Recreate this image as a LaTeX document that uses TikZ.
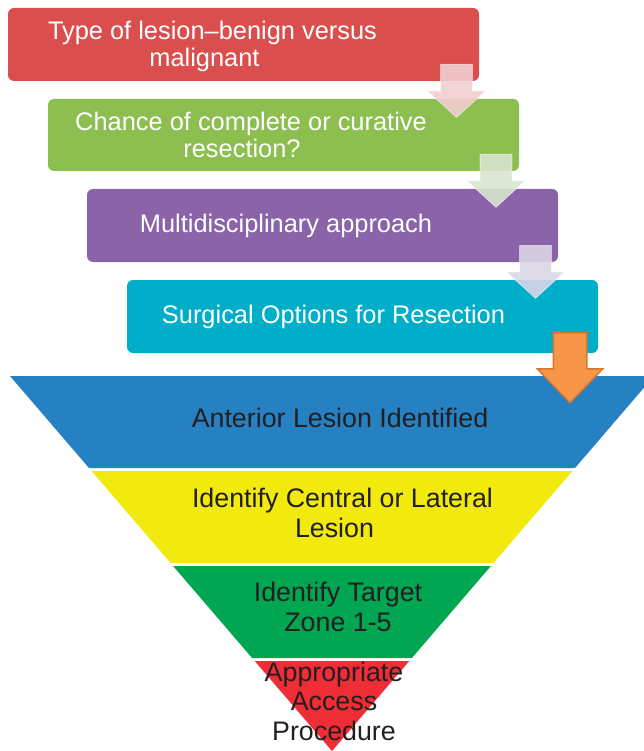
\documentclass[tikz,border=0pt]{standalone}
\usepackage{fontspec}
\setmainfont{Liberation Sans}
\usepackage{xcolor}
\usetikzlibrary{shapes.arrows}
\usetikzlibrary{fit}

\definecolor{boxred}{HTML}{DB4E4E}
\definecolor{boxgreen}{HTML}{8DBE50}
\definecolor{boxpurple}{HTML}{8A63A8}
\definecolor{boxcyan}{HTML}{00AEC9}
\definecolor{arrowpink}{HTML}{F2CED0}
\definecolor{arrowgreen}{HTML}{D8E5CE}
\definecolor{arrowlilac}{HTML}{DCD6E6}
\definecolor{arroworange}{HTML}{F79646}
\definecolor{arrowedge}{HTML}{D8762E}
\definecolor{funblue}{HTML}{2581C1}
\definecolor{funyellow}{HTML}{F2EA0C}
\definecolor{fungreen}{HTML}{00A651}
\definecolor{funred}{HTML}{EE2D37}
\definecolor{funtextcol}{HTML}{231F20}

\begin{document}
\begin{tikzpicture}[%
x=1pt, y=-1pt,
stepbox/.style={fill=#1, rounded corners=6pt, inner sep=0pt},
boxlabel/.style={text=white, align=center, font=\fontsize{25.4}{27}\selectfont},
flowarrow/.style={single arrow, rotate=-90, anchor=tail, minimum height=53pt,
  inner xsep=0pt, inner ysep=15.5pt, single arrow head extend=13pt,
  single arrow tip angle=95, single arrow head indent=0pt, fill=#1,
  fill opacity=0.9, draw=white, draw opacity=0.5, line width=0.8pt},
funtext/.style={text=funtextcol, align=center, font=\fontsize{26.8}{29.5}\selectfont}
]
\useasboundingbox (0,0) rectangle (644,751);
\clip (0,0) rectangle (644,751);

% funnel, four bands with a thin white gap between them
\fill[funblue] (10,376) -- (654,376) -- (575,468) -- (89,468) -- cycle;
\fill[funyellow] (91.6,471) -- (572.4,471) -- (493.4,563) -- (170.6,563) -- cycle;
\fill[fungreen] (173.1,566) -- (490.9,566) -- (411.9,658) -- (252.1,658) -- cycle;
\fill[funred] (254.7,661) -- (409.3,661) -- (332,751) -- cycle;

\node[funtext] (anterior) at (340,418) {Anterior Lesion Identified};
\node[funtext] (central) at (342.5,513) {Identify Central or Lateral\\Lesion\hspace*{16pt}};
\node[funtext] (target) at (338,607) {Identify Target\\Zone 1-5};
\node[funtext] (access) at (334,701) {Appropriate\\Access\\Procedure};

% staircase of steps
\node[stepbox=boxred, fit={(8,8) (479,81)},
  label={[boxlabel, xshift=-31pt, yshift=-2pt]center:{Type of lesion--benign versus\\malignant\hspace*{16pt}}}] (lesion) {};
\node[stepbox=boxgreen, fit={(48,99) (519,171)},
  label={[boxlabel, xshift=-32.5pt]center:{Chance of complete or curative\\resection?\hspace*{18pt}}}] (chance) {};
\node[stepbox=boxpurple, fit={(87,189) (558,262)},
  label={[boxlabel, xshift=-36.5pt]center:{Multidisciplinary approach}}] (multi) {};
\node[stepbox=boxcyan, fit={(127,280) (598,353)},
  label={[boxlabel, xshift=-29pt]center:{Surgical Options for Resection}}] (surgical) {};

% block arrows between the steps
\node[flowarrow=arrowpink] (arrowA) at (456.5,64) {};
\node[flowarrow=arrowgreen] (arrowB) at (496,154) {};
\node[flowarrow=arrowlilac] (arrowC) at (535.5,245) {};
\node[flowarrow=arroworange, minimum height=70pt, inner ysep=16pt,
  single arrow head extend=16pt, single arrow tip angle=88,
  fill opacity=1, draw=arrowedge, draw opacity=1, line width=1.5pt] (arrowD) at (570,332) {};
\end{tikzpicture}
\end{document}
